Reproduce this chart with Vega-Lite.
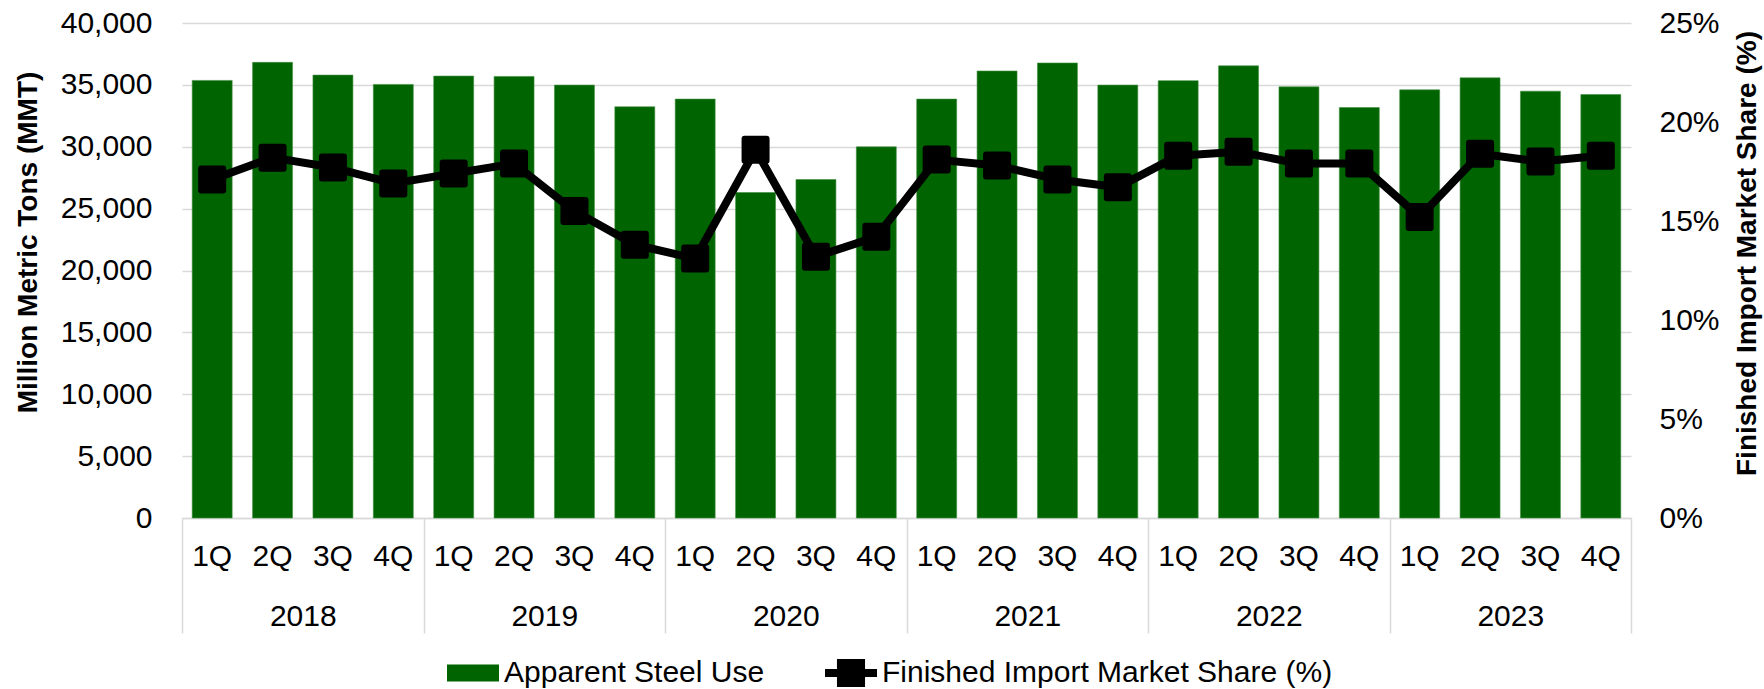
{
  "$schema": "https://vega.github.io/schema/vega-lite/v6.json",
  "width": 1449,
  "height": 495,
  "autosize": {"type": "none"},
  "padding": {"left": 182, "top": 23, "right": 133, "bottom": 171},
  "background": "white",
  "config": {
    "view": {"stroke": null},
    "font": "Liberation Sans",
    "axis": {"labelFont": "Liberation Sans", "labelFontSize": 30, "labelColor": "#000000", "titleFont": "Liberation Sans", "titleColor": "#000000"},
    "legend": {"labelFont": "Liberation Sans", "labelColor": "#000000"}
  },
  "data": {
    "values": [
      {"year": "2018", "q": "1Q", "key": "2018 1Q", "steel": 35360, "share": 17.1},
      {"year": "2018", "q": "2Q", "key": "2018 2Q", "steel": 36820, "share": 18.2},
      {"year": "2018", "q": "3Q", "key": "2018 3Q", "steel": 35790, "share": 17.7},
      {"year": "2018", "q": "4Q", "key": "2018 4Q", "steel": 35040, "share": 16.9},
      {"year": "2019", "q": "1Q", "key": "2019 1Q", "steel": 35710, "share": 17.4},
      {"year": "2019", "q": "2Q", "key": "2019 2Q", "steel": 35680, "share": 17.9},
      {"year": "2019", "q": "3Q", "key": "2019 3Q", "steel": 34980, "share": 15.5},
      {"year": "2019", "q": "4Q", "key": "2019 4Q", "steel": 33230, "share": 13.8},
      {"year": "2020", "q": "1Q", "key": "2020 1Q", "steel": 33850, "share": 13.1},
      {"year": "2020", "q": "2Q", "key": "2020 2Q", "steel": 26300, "share": 18.6},
      {"year": "2020", "q": "3Q", "key": "2020 3Q", "steel": 27350, "share": 13.2},
      {"year": "2020", "q": "4Q", "key": "2020 4Q", "steel": 29990, "share": 14.2},
      {"year": "2021", "q": "1Q", "key": "2021 1Q", "steel": 33850, "share": 18.1},
      {"year": "2021", "q": "2Q", "key": "2021 2Q", "steel": 36120, "share": 17.8},
      {"year": "2021", "q": "3Q", "key": "2021 3Q", "steel": 36770, "share": 17.1},
      {"year": "2021", "q": "4Q", "key": "2021 4Q", "steel": 34980, "share": 16.7},
      {"year": "2022", "q": "1Q", "key": "2022 1Q", "steel": 35340, "share": 18.3},
      {"year": "2022", "q": "2Q", "key": "2022 2Q", "steel": 36540, "share": 18.5},
      {"year": "2022", "q": "3Q", "key": "2022 3Q", "steel": 34840, "share": 17.9},
      {"year": "2022", "q": "4Q", "key": "2022 4Q", "steel": 33170, "share": 17.9},
      {"year": "2023", "q": "1Q", "key": "2023 1Q", "steel": 34600, "share": 15.2},
      {"year": "2023", "q": "2Q", "key": "2023 2Q", "steel": 35570, "share": 18.4},
      {"year": "2023", "q": "3Q", "key": "2023 3Q", "steel": 34490, "share": 18.0},
      {"year": "2023", "q": "4Q", "key": "2023 4Q", "steel": 34220, "share": 18.3}
    ]
  },
  "layer": [
    {
      "mark": {"type": "bar", "width": {"band": 0.662}, "stroke": "#3f8f3f", "strokeWidth": 0.6},
      "encoding": {
        "x": {
          "field": "key", "type": "nominal", "sort": null,
          "scale": {"type": "band", "paddingInner": 0, "paddingOuter": 0},
          "axis": {
            "orient": "bottom", "title": null, "labelAngle": 0,
            "labelExpr": "split(datum.label, ' ')[1]",
            "ticks": false, "labelPadding": 38, "labelBaseline": "middle",
            "domain": true, "domainColor": "#d9d9d9", "domainWidth": 1.5,
            "grid": false, "labelOverlap": false
          }
        },
        "y": {
          "field": "steel", "type": "quantitative",
          "scale": {"domain": [0, 40000], "nice": false},
          "axis": {
            "orient": "left",
            "title": "Million Metric Tons (MMT)",
            "titleFontSize": 28, "titleFontWeight": "bold",
            "titleAngle": -90, "titleAlign": "center", "titleBaseline": "middle",
            "titleX": -154, "titleY": 219,
            "values": [0, 5000, 10000, 15000, 20000, 25000, 30000, 35000, 40000],
            "format": ",d",
            "ticks": false, "labelPadding": 30, "domain": false,
            "grid": true, "gridColor": "#d9d9d9", "gridWidth": 1.5
          }
        },
        "color": {
          "datum": "Apparent Steel Use",
          "type": "nominal",
          "scale": {"domain": ["Apparent Steel Use", "Finished Import Market Share (%)"], "range": ["#006400", "#000000"]},
          "legend": {
            "orient": "none", "legendX": 265, "legendY": 624,
            "direction": "horizontal", "title": null, "padding": 0,
            "labelFontSize": 30, "labelOffset": 5, "columnPadding": 60, "labelLimit": 1000,
            "symbolSize": 2704, "symbolStrokeWidth": 0, "symbolOpacity": 1,
            "symbolType": {"expr": "datum.value === 'Apparent Steel Use' ? 'M-1,-0.33H1V0.33H-1Z' : 'M-1,-0.15H-0.54V-0.54H0.54V-0.15H1V0.15H0.54V0.54H-0.54V0.15H-1Z'"}
          }
        }
      }
    },
    {
      "encoding": {
        "x": {"field": "key", "type": "nominal", "sort": null, "scale": {"type": "band", "paddingInner": 0, "paddingOuter": 0}, "axis": null},
        "y": {
          "field": "share", "type": "quantitative",
          "scale": {"domain": [0, 25], "nice": false},
          "axis": {
            "orient": "right",
            "title": "Finished Import Market Share (%)",
            "titleFontSize": 28, "titleFontWeight": "bold",
            "titleAngle": -90, "titleAlign": "center", "titleBaseline": "middle",
            "titleX": 116.5, "titleY": 230,
            "values": [0, 5, 10, 15, 20, 25],
            "labelExpr": "datum.value + '%'",
            "ticks": false, "labelPadding": 28, "domain": false, "grid": false
          }
        },
        "color": {"datum": "Finished Import Market Share (%)", "type": "nominal"}
      },
      "layer": [
        {"mark": {"type": "line", "strokeWidth": 8, "strokeJoin": "round", "color": "#000000"}},
        {"mark": {"type": "point", "shape": "square", "size": 484, "filled": true, "color": "#000000", "stroke": "#000000", "strokeWidth": 6, "strokeJoin": "round", "opacity": 1}}
      ]
    },
    {
      "mark": {"type": "text", "text": "", "opacity": 0},
      "encoding": {
        "x": {
          "field": "year", "type": "nominal", "sort": null,
          "scale": {"type": "band", "paddingInner": 0, "paddingOuter": 0},
          "axis": {
            "orient": "bottom", "title": null, "labelAngle": 0,
            "tickBand": "extent", "ticks": true, "tickSize": 115, "tickColor": "#d9d9d9", "tickWidth": 1.5,
            "labelPadding": -17, "labelBaseline": "middle",
            "domain": false, "grid": false, "labelOverlap": false
          }
        }
      }
    }
  ],
  "resolve": {
    "scale": {"x": "independent", "y": "independent"},
    "axis": {"x": "independent", "y": "independent"}
  }
}
